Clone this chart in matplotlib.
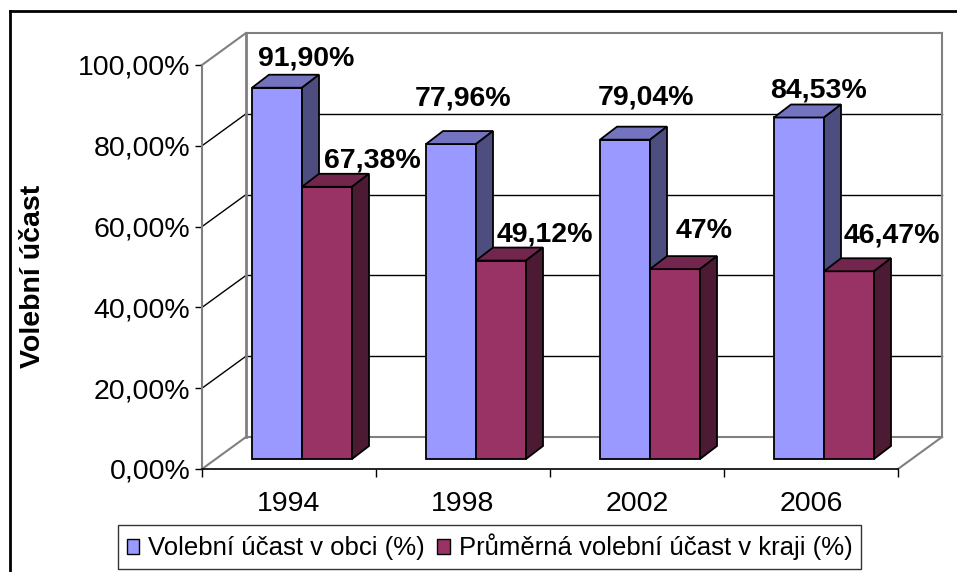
import numpy as np
import matplotlib.pyplot as plt
from matplotlib.patches import Polygon, Patch
from matplotlib.lines import Line2D
from matplotlib.transforms import IdentityTransform

plt.rcParams['font.family'] = ['Liberation Sans', 'DejaVu Sans']

# =====================================================
# Data
# =====================================================
years = ['1994', '1998', '2002', '2006']
ucast_obec = [91.90, 77.96, 79.04, 84.53]
ucast_kraj = [67.38, 49.12, 47.00, 46.47]
series_names = ['Volební účast v obci (%)', 'Průměrná volební účast v kraji (%)']
y_ticks = [0, 20, 40, 60, 80, 100]

# style: front / top / side colours per series
face_colors = [('#9999FF', '#7373BF', '#4D4D80'),
               ('#993366', '#73264D', '#4D1A33')]

# label nudges in pixels (Excel moves the labels around a bit)
label_nudge = [[(12, 16), (28, 13)],
               [(-5, 33), (27, 13)],
               [(4, 29), (12, 25)],
               [(2, 14), (26, 23)]]

# =====================================================
# Figure + pseudo 3D geometry (pixel offsets)
# =====================================================
W, H = 957, 572
fig = plt.figure(figsize=(W / 100, H / 100), dpi=100)
ax = fig.add_axes([202 / W, (H - 469) / H, 696 / W, 404 / H])
ax.set_xlim(0, len(years))
ax.set_ylim(0, 100)
ax.patch.set_visible(False)

WALL = np.array([44, 32])
BAR_FRONT = np.array([13, 10])
BAR_DEPTH = np.array([17, 13])
bar_w = 50 / 174
margin = (1 - 2 * bar_w) / 2
GRAY = '#808080'


def px(x, y, off=(0, 0)):
    return ax.transData.transform((x, y)) + np.asarray(off)


def seg(p0, p1, color, lw=1.0, z=1):
    ax.add_line(Line2D([p0[0], p1[0]], [p0[1], p1[1]], color=color, lw=lw,
                       transform=IdentityTransform(), clip_on=False, zorder=z))


def face(pts, color, z=3):
    ax.add_patch(Polygon(pts, closed=True, facecolor=color, edgecolor='black',
                         lw=1.3, transform=IdentityTransform(), clip_on=False,
                         zorder=z, joinstyle='miter'))


n = len(years)
# walls and gridlines
for yv in y_ticks:
    c = GRAY if yv in (0, 100) else 'black'
    lw = 1.5 if yv in (0, 100) else 1.0
    seg(px(0, yv), px(0, yv, WALL), c, lw)
    seg(px(0, yv, WALL), px(n, yv, WALL), c, lw)
seg(px(0, 0, WALL), px(0, 100, WALL), GRAY, 2)
seg(px(n, 0, WALL), px(n, 100, WALL), GRAY, 1.5)
seg(px(n, 0), px(n, 0, WALL), GRAY, 1.5)

# bars
for i in range(n):
    for j, vals in enumerate([ucast_obec, ucast_kraj]):
        v = vals[i]
        x0 = i + margin + j * bar_w
        x1 = x0 + bar_w
        fc, tc, sc = face_colors[j]
        back = BAR_FRONT + BAR_DEPTH
        face([px(x0, 0, BAR_FRONT), px(x1, 0, BAR_FRONT),
              px(x1, v, BAR_FRONT), px(x0, v, BAR_FRONT)], fc)
        face([px(x0, v, BAR_FRONT), px(x1, v, BAR_FRONT),
              px(x1, v, back), px(x0, v, back)], tc)
        face([px(x1, 0, BAR_FRONT), px(x1, 0, back),
              px(x1, v, back), px(x1, v, BAR_FRONT)], sc)

        if float(v).is_integer():
            txt = f'{int(v)}%'
        else:
            txt = f'{v:.2f}'.replace('.', ',') + '%'
        nx, ny = label_nudge[i][j]
        ax.annotate(txt, xy=(x0 + bar_w / 2, v), xycoords='data',
                    xytext=(back[0] + nx, back[1] + ny), textcoords='offset pixels',
                    ha='center', va='center', fontsize=20.5, fontweight='bold',
                    zorder=5, annotation_clip=False)

# axes
for s in ['top', 'right']:
    ax.spines[s].set_visible(False)
ax.spines['left'].set_color(GRAY)
ax.spines['left'].set_linewidth(1.5)
ax.spines['bottom'].set_color('black')
ax.spines['bottom'].set_linewidth(1.2)
ax.spines['bottom'].set_zorder(4)

ax.set_yticks(y_ticks)
ax.set_yticklabels([f'{t:.2f}'.replace('.', ',') + '%' for t in y_ticks])
ax.tick_params(axis='y', direction='out', length=5, width=1, color='black',
               pad=3.5, labelsize=20.5)

ax.set_xticks(range(n + 1))
ax.set_xticklabels([])
ax.set_xticks(np.arange(n) + 0.5, minor=True)
ax.set_xticklabels(years, minor=True)
ax.tick_params(axis='x', which='major', direction='out', length=6, width=1, color='black')
ax.tick_params(axis='x', which='minor', length=0, pad=16, labelsize=20.5)

fig.text(33 / W, 1 - 276 / H, 'Volební účast', rotation=90, ha='center',
         va='center', fontsize=20.5, fontweight='bold')

# legend
handles = [Patch(facecolor=face_colors[k][0], edgecolor='black', lw=1)
           for k in range(2)]
leg = fig.legend(handles=handles, labels=series_names, loc='center',
                 bbox_to_anchor=((116 + 863) / 2 / W, 1 - 547 / H), ncol=2,
                 frameon=True, fancybox=False, edgecolor='black',
                 handlelength=0.5, handleheight=0.5, handletextpad=0.35,
                 columnspacing=0.45, borderpad=0.35, borderaxespad=0,
                 fontsize=18.5)
leg.get_frame().set_linewidth(1)

# outer chart border (only left and top are inside the picture)
fig.add_artist(Line2D([10 / W, 10 / W], [0, 1 - 11 / H], color='black', lw=2,
                      transform=fig.transFigure))
fig.add_artist(Line2D([10 / W, 1], [1 - 11 / H, 1 - 11 / H], color='black', lw=2,
                      transform=fig.transFigure))

plt.savefig('out.png', dpi=100)
